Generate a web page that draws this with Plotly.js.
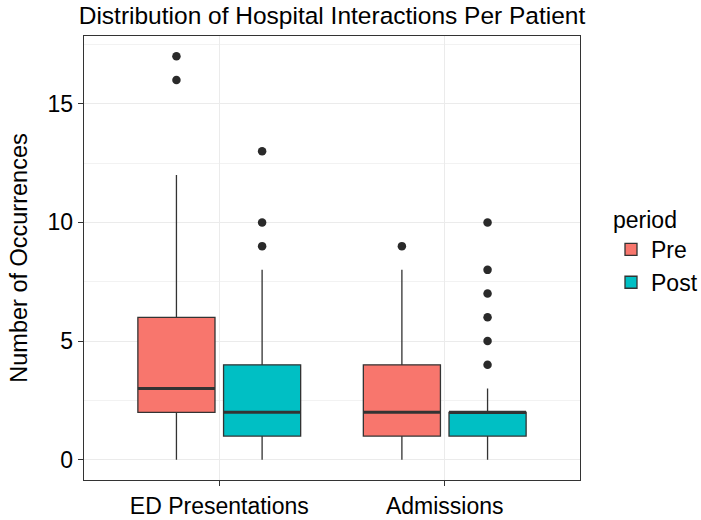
<!DOCTYPE html>
<html>
<head>
<meta charset="utf-8">
<script src="https://cdn.plot.ly/plotly-3.0.1.min.js"></script>
<style>html,body{margin:0;padding:0;background:#fff;}#chart{width:701px;height:520px;}</style>
</head>
<body>
<div id="chart"></div>
<script>
// ---- data ----
const categories = ['ED Presentations', 'Admissions'];

const preQ1 = [2, 1];
const preMedian = [3, 2];
const preQ3 = [6, 4];
const preLower = [0, 0];
const preUpper = [12, 8];
const preOutlierCat = ['ED Presentations', 'ED Presentations', 'Admissions'];
const preOutlierVal = [16, 17, 9];

const postQ1 = [1, 1];
const postMedian = [2, 2];
const postQ3 = [4, 2];
const postLower = [0, 0];
const postUpper = [8, 3];
const postOutlierCat = ['ED Presentations', 'ED Presentations', 'ED Presentations',
  'Admissions', 'Admissions', 'Admissions', 'Admissions', 'Admissions', 'Admissions'];
const postOutlierVal = [9, 10, 13, 4, 5, 6, 7, 8, 10];

// ---- styling / layout constants ----
const PRE_COLOR = '#F8766D';
const POST_COLOR = '#00BFC4';
const LINE = '#333333';
const FONT = 'Liberation Sans, Arial, Helvetica, sans-serif';
const BOXGAP = 0.24;
const BOXGROUPGAP = 0.1;
const XRANGE = [-0.6, 1.6];
const dodge = (1 - BOXGAP) / 4;
const halfW = (1 - BOXGAP) * (1 - BOXGROUPGAP) / 4;

function boxTrace(name, color, q1, med, q3, lo, hi) {
  return {
    type: 'box', name: name, x: categories,
    q1: q1, median: med, q3: q3, lowerfence: lo, upperfence: hi,
    boxpoints: false, whiskerwidth: 0,
    fillcolor: color, line: {color: LINE, width: 1.3},
    hoverinfo: 'skip'
  };
}
function outlierTrace(cats, vals, sign) {
  return {
    type: 'scatter', mode: 'markers', xaxis: 'x2', showlegend: false,
    x: cats.map(c => categories.indexOf(c) + sign * dodge),
    y: vals,
    marker: {color: '#2a2a2a', size: 8.5}, hoverinfo: 'skip'
  };
}
function medianTrace(med, sign) {
  const xs = [], ys = [];
  med.forEach((m, i) => {
    const c = i + sign * dodge;
    xs.push(c - halfW, c + halfW, null);
    ys.push(m, m, null);
  });
  return {
    type: 'scatter', mode: 'lines', xaxis: 'x2', showlegend: false,
    x: xs, y: ys, line: {color: LINE, width: 3}, hoverinfo: 'skip'
  };
}

const data = [
  boxTrace('Pre', PRE_COLOR, preQ1, preMedian, preQ3, preLower, preUpper),
  boxTrace('Post', POST_COLOR, postQ1, postMedian, postQ3, postLower, postUpper),
  medianTrace(preMedian, -1),
  medianTrace(postMedian, 1),
  outlierTrace(preOutlierCat, preOutlierVal, -1),
  outlierTrace(postOutlierCat, postOutlierVal, 1)
];

const layout = {
  width: 701, height: 520,
  margin: {l: 84, r: 121, t: 36, b: 40, autoexpand: false},
  paper_bgcolor: '#ffffff', plot_bgcolor: '#ffffff',
  font: {family: FONT, color: '#000000', size: 23},
  title: {text: 'Distribution of Hospital Interactions Per Patient',
    font: {family: FONT, size: 24.5, color: '#000000'},
    x: 0.5, xref: 'paper', y: 1 - 15 / 520, yref: 'container', yanchor: 'middle'},
  boxmode: 'group', boxgap: BOXGAP, boxgroupgap: BOXGROUPGAP,
  showlegend: true,
  legend: {
    title: {text: 'period', font: {family: FONT, size: 23, color: '#000'}},
    font: {family: FONT, size: 23, color: '#000'},
    xref: 'container', x: 611 / 701, xanchor: 'left',
    yref: 'container', y: 1 - 198 / 520, yanchor: 'top',
    bgcolor: 'rgba(0,0,0,0)', tracegroupgap: 0
  },
  xaxis: {
    type: 'category', range: XRANGE, autorange: false,
    showgrid: true, gridcolor: '#EBEBEB', gridwidth: 1.2,
    showline: true, linecolor: LINE, linewidth: 1.3, mirror: true,
    ticks: 'outside', ticklen: 5, tickcolor: LINE, tickwidth: 1.2,
    tickfont: {family: FONT, size: 23, color: '#000'},
    zeroline: false, fixedrange: true
  },
  xaxis2: {
    type: 'linear', overlaying: 'x', range: XRANGE, autorange: false,
    visible: false, showgrid: false, zeroline: false
  },
  yaxis: {
    range: [-0.85, 17.85], autorange: false,
    tickvals: [0, 5, 10, 15], ticktext: ['0', '5', '10', '15'],
    showgrid: true, gridcolor: '#EBEBEB', gridwidth: 1.2,
    minor: {tickvals: [2.5, 7.5, 12.5, 17.5], showgrid: true, gridcolor: '#F2F2F2', gridwidth: 1, ticks: ''},
    showline: true, linecolor: LINE, linewidth: 1.3, mirror: true,
    ticks: 'outside', ticklen: 5, tickcolor: LINE, tickwidth: 1.2,
    tickfont: {family: FONT, size: 23, color: '#000'},
    title: {text: 'Number of Occurrences', font: {family: FONT, size: 23.5, color: '#000'}, standoff: 13},
    zeroline: false, fixedrange: true
  }
};

Plotly.newPlot('chart', data, layout, {displayModeBar: false, staticPlot: true});
</script>
</body>
</html>
